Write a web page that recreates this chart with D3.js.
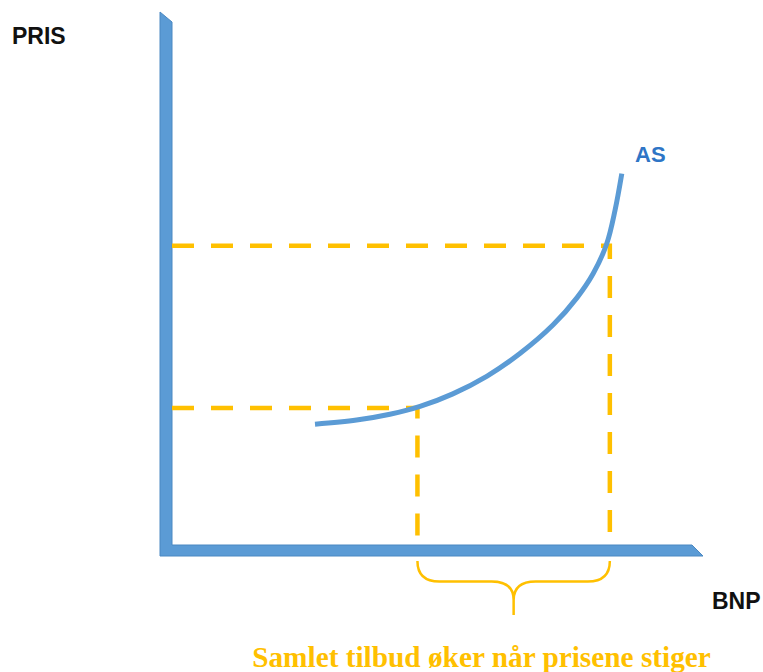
<!DOCTYPE html>
<html>
<head>
<meta charset="utf-8">
<script src="https://cdn.jsdelivr.net/npm/d3@7"></script>
<style>
  html, body { margin: 0; padding: 0; background: #fff; }
  svg { display: block; }
</style>
</head>
<body>
<div id="chart"></div>
<script>
// AS-kurve (BNP, pris) i vilkårlige enheter 0–100
var asBnp  = [27.5, 35.5, 41.9, 47.7, 54.0, 60.6, 66.9, 73.3, 77.9, 81.0, 83.6, 85.2, 86.5];
var asPris = [23.1, 23.9, 25.0, 26.5, 28.9, 32.3, 36.6, 42.1, 47.3, 51.9, 57.6, 64.0, 71.0];

// to prisnivå og tilhørende BNP (stiplete hjelpelinjer)
var levelBnp  = [47.2, 84.2];
var levelPris = [26.2, 57.2];

var axisLabels = { y: "PRIS", x: "BNP", curve: "AS" };
var caption = "Samlet tilbud øker når prisene stiger";

var W = 763, H = 672;
var blue = "#5B9BD5", orange = "#FFC000";

var x = d3.scaleLinear().domain([0, 100]).range([172, 692]);
var y = d3.scaleLinear().domain([0, 100]).range([545, 22]);

var svg = d3.select("#chart").append("svg").attr("width", W).attr("height", H);

// akser: tykke blå bjelker med skrå ender
var t = 12, x0 = x(0), y0 = y(0);
var axisPoly = [
  [x0 - t, y(100) - 10], [x0, y(100)], [x0, y0],
  [x(100), y0], [x(100) + 11, y0 + 11], [x0 - t, y0 + 11]
];
svg.append("path")
  .attr("d", "M" + axisPoly.map(function (p) { return p.join(","); }).join("L") + "Z")
  .attr("fill", blue).attr("stroke", "#4A88C2").attr("stroke-width", 1);

// stiplete linjer fra pris-aksen til kurven og ned til BNP-aksen
levelBnp.forEach(function (b, i) {
  var p = levelPris[i];
  svg.append("path")
    .attr("d", d3.line()([[x(0), y(p)], [x(b), y(p)], [x(b), y(0)]]))
    .attr("fill", "none").attr("stroke", orange).attr("stroke-width", 4.5)
    .attr("stroke-dasharray", "22 17").attr("stroke-linejoin", "miter");
});

// AS-kurven
var asData = asBnp.map(function (b, i) { return [b, asPris[i]]; });
svg.append("path")
  .datum(asData)
  .attr("d", d3.line().x(function (d) { return x(d[0]); }).y(function (d) { return y(d[1]); }).curve(d3.curveCatmullRom))
  .attr("fill", "none").attr("stroke", blue).attr("stroke-width", 5).attr("stroke-linecap", "butt");

svg.append("text").attr("x", 635).attr("y", 162).text(axisLabels.curve)
  .attr("font-family", "Liberation Sans, Arial, sans-serif").attr("font-weight", "bold")
  .attr("font-size", 22).attr("fill", "#2E75C6");

// klammeparentes under BNP-aksen
var bx1 = x(levelBnp[0]), bx2 = x(levelBnp[1]), bm = (bx1 + bx2) / 2;
var bTop = 561, bMid = 581.5, bTip = 600, bEnd = 615, r = 22;
var bp = d3.path();
bp.moveTo(bx1, bTop);
bp.quadraticCurveTo(bx1, bMid, bx1 + r, bMid);
bp.lineTo(bm - r, bMid);
bp.quadraticCurveTo(bm, bMid, bm, bTip);
bp.lineTo(bm, bEnd);
bp.moveTo(bm, bTip);
bp.quadraticCurveTo(bm, bMid, bm + r, bMid);
bp.lineTo(bx2 - r, bMid);
bp.quadraticCurveTo(bx2, bMid, bx2, bTop);
svg.append("path").attr("d", bp.toString())
  .attr("fill", "none").attr("stroke", orange).attr("stroke-width", 2.5);

// aksetitler
svg.append("text").attr("x", 12).attr("y", 44).text(axisLabels.y)
  .attr("font-family", "Liberation Sans, Arial, sans-serif").attr("font-weight", "bold")
  .attr("font-size", 23).attr("fill", "#111");
svg.append("text").attr("x", 712).attr("y", 609).text(axisLabels.x)
  .attr("font-family", "Liberation Sans, Arial, sans-serif").attr("font-weight", "bold")
  .attr("font-size", 23).attr("fill", "#111");

svg.append("text").attr("x", 481.5).attr("y", 667).attr("text-anchor", "middle").text(caption)
  .attr("font-family", "Liberation Serif, Times New Roman, serif").attr("font-weight", "bold")
  .attr("font-size", 29.3).attr("fill", orange);
</script>
</body>
</html>
